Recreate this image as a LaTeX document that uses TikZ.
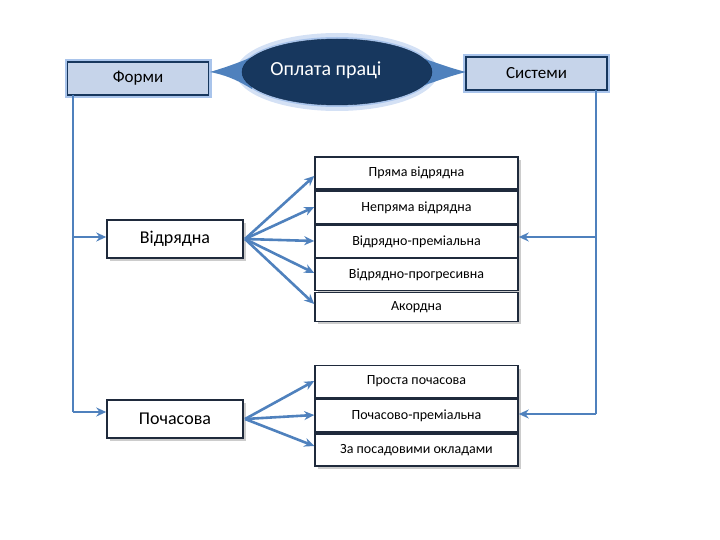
\documentclass[tikz,border=0pt]{standalone}
\usepackage{fontspec}
\setmainfont{Carlito}
\usetikzlibrary{arrows.meta,shapes.geometric}
\definecolor{navy}{HTML}{17375E}
\definecolor{lblue}{HTML}{C6D4EA}
\definecolor{lineblue}{HTML}{4F81BD}
\definecolor{glow}{HTML}{A9C4EB}
\definecolor{boxborder}{HTML}{1F2A3C}
\tikzset{
  headbox/.style={draw=navy, line width=1.8pt, fill=lblue, minimum width=141pt, minimum height=33pt, font=\fontsize{17}{19}\selectfont, inner sep=0pt},
  glowbox/.style={draw=glow, line width=6pt, minimum width=141pt, minimum height=33pt, inner sep=0pt},
  mainbox/.style={draw=boxborder, line width=1.5pt, fill=white, minimum width=136pt, minimum height=38pt, font=\fontsize{18}{20}\selectfont, inner sep=0pt},
  subbox/.style={draw=boxborder, line width=1.5pt, fill=white, minimum width=203pt, inner sep=0pt, font=\fontsize{14}{16}\selectfont},
  conn/.style={draw=lineblue, line width=2.6pt},
  arr/.style={conn, -{Stealth[length=10pt,width=9pt]}}
}
\begin{document}
\begin{tikzpicture}[x=1pt,y=-1pt]
\useasboundingbox (0,0) rectangle (720,540);

% glows
\fill[glow!50] (337,72) ellipse [x radius=101, y radius=39];
\fill[glow] (337,72) ellipse [x radius=97, y radius=35];
\node[glowbox] at (138,78.5) {};
\node[glowbox] at (536.5,73.5) {};

% wedges
\fill[lineblue] (210,72) .. controls (230,66) and (240,62) .. (252,57) -- (252,89) .. controls (240,82) and (230,76) .. (210,72) -- cycle;
\fill[lineblue] (466,72) .. controls (450,68) and (440,64) .. (425,59) -- (425,85) .. controls (440,80) and (450,76) .. (466,72) -- cycle;

% ellipse
\node[ellipse, fill=navy, draw=navy!80!black, minimum width=190pt, minimum height=66pt, inner sep=0pt] (op) at (337,72) {};
\node[text=white, font=\fontsize{20}{22}\selectfont] (optext) at (326,70) {Оплата праці};

% header boxes
\node[headbox] (form) at (138,78.5) {Форми};
\node[headbox] (sys) at (536.5,73.5) {Системи};

% main boxes with shadows
\fill[gray!40] (110,223) rectangle (246,261);
\node[mainbox] (vid) at (175,239) {Відрядна};
\fill[gray!40] (110,403) rectangle (246,441);
\node[mainbox] (poch) at (175,419) {Почасова};

% sub boxes
\fill[gray!40] (318,160) rectangle (521,324);
\node[subbox, minimum height=32pt] (s1) at (416.5,173) {Пряма відрядна};
\node[subbox, minimum height=33pt] (s2) at (416.5,207.5) {Непряма відрядна};
\node[subbox, minimum height=32pt] (s3) at (416.5,241.5) {Відрядно-преміальна};
\node[subbox, minimum height=32pt] (s4) at (416.5,274.5) {Відрядно-прогресивна};
\node[subbox, minimum height=29pt] (s5) at (416.5,307) {Акордна};
\fill[gray!40] (318,369) rectangle (521,469);
\node[subbox, minimum height=32pt] (t1) at (416.5,381.5) {Проста почасова};
\node[subbox, minimum height=33pt] (t2) at (416.5,415.5) {Почасово-преміальна};
\node[subbox, minimum height=32pt] (t3) at (416.5,450) {За посадовими окладами};

% left spine
\coordinate (lt) at (73,95);
\coordinate (l1) at (73,237);
\coordinate (l2) at (73,412);
\draw[conn] (lt) -- (l2);
\draw[arr] (l1) -- (vid.west |- l1);
\draw[arr] (l2) -- (poch.west |- l2);

% right spine
\coordinate (rt) at (596,90);
\coordinate (r1) at (596,237);
\coordinate (r2) at (596,414);
\draw[conn] (rt) -- (r2);
\draw[arr] (r1) -- (s3.east |- r1);
\draw[arr] (r2) -- (t2.east |- r2);

% fan arrows
\coordinate (vo) at (245,239);
\draw[arr] (vo) -- (s1.west |- 0,176);
\draw[arr] (vo) -- (s2.west |- 0,207);
\draw[arr] (vo) -- (s3.west |- 0,241);
\draw[arr] (vo) -- (s4.west |- 0,273);
\draw[arr] (vo) -- (s5.west |- 0,304);
\coordinate (po) at (245,419);
\draw[arr] (po) -- (t1.west |- 0,381);
\draw[arr] (po) -- (t2.west |- 0,415);
\draw[arr] (po) -- (t3.west |- 0,446);
\end{tikzpicture}
\end{document}
